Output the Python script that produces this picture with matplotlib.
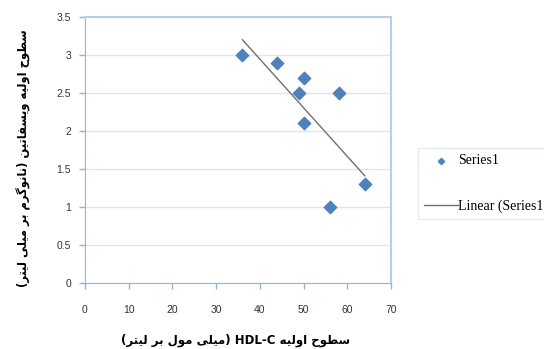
import matplotlib
matplotlib.use("Agg")
import matplotlib.pyplot as plt
import numpy as np

# data
hdl_c = [36, 44, 50, 49, 58, 50, 56, 64]
visfatin = [3.0, 2.9, 2.7, 2.5, 2.5, 2.1, 1.0, 1.3]
x_ticks = [0, 10, 20, 30, 40, 50, 60, 70]
y_ticks = [0, 0.5, 1, 1.5, 2, 2.5, 3, 3.5]

# minimal Persian shaping (matplotlib has no bidi / joining support)
FORMS = {  # isolated, final, initial, medial
    "ا": ("\uFE8D", "\uFE8E", None, None),
    "ب": ("\uFE8F", "\uFE90", "\uFE91", "\uFE92"),
    "ت": ("\uFE95", "\uFE96", "\uFE97", "\uFE98"),
    "ح": ("\uFEA1", "\uFEA2", "\uFEA3", "\uFEA4"),
    "ر": ("\uFEAD", "\uFEAE", None, None),
    "س": ("\uFEB1", "\uFEB2", "\uFEB3", "\uFEB4"),
    "ط": ("\uFEC1", "\uFEC2", "\uFEC3", "\uFEC4"),
    "ف": ("\uFED1", "\uFED2", "\uFED3", "\uFED4"),
    "ل": ("\uFEDD", "\uFEDE", "\uFEDF", "\uFEE0"),
    "م": ("\uFEE1", "\uFEE2", "\uFEE3", "\uFEE4"),
    "ن": ("\uFEE5", "\uFEE6", "\uFEE7", "\uFEE8"),
    "ه": ("\uFEE9", "\uFEEA", "\uFEEB", "\uFEEC"),
    "و": ("\uFEED", "\uFEEE", None, None),
    "ی": ("\uFBFC", "\uFBFD", "\uFBFE", "\uFBFF"),
    "گ": ("\uFB92", "\uFB93", "\uFB94", "\uFB95"),
}


def shape(s):
    out = []
    for i, ch in enumerate(s):
        if ch not in FORMS:
            out.append(ch)
            continue
        prev = s[i - 1] if i > 0 else ""
        nxt = s[i + 1] if i + 1 < len(s) else ""
        jp = prev in FORMS and FORMS[prev][2] is not None
        jn = FORMS[ch][2] is not None and nxt in FORMS
        iso, fin, ini, med = FORMS[ch]
        if jp and jn:
            out.append(med)
        elif jp:
            out.append(fin)
        elif jn:
            out.append(ini)
        else:
            out.append(iso)
    return out


def rtl(s):
    mirror = {"(": ")", ")": "("}
    return "".join(mirror.get(c, c) for c in reversed(shape(s)))


ylabel = rtl("سطوح اولیه ویسفاتین (نانوگرم بر میلی لیتر)")
xlabel = rtl("(میلی مول بر لیتر)") + " HDL-C " + rtl("سطوح اولیه")

fig = plt.figure(figsize=(5.44, 3.49), dpi=100)
ax = fig.add_axes([85 / 544, 1 - 283 / 349, 306 / 544, 266 / 349])

ax.scatter(hdl_c, visfatin, marker="D", s=40, color="#4F81BD", zorder=3,
           label="Series1")
k, b = np.polyfit(hdl_c, visfatin, 1)
xs = np.array([min(hdl_c), max(hdl_c)])
ax.plot(xs, k * xs + b, color="#707070", lw=1, zorder=2,
        label="Linear (Series1)")

ax.set_xlim(0, 70)
ax.set_ylim(0, 3.5)
ax.set_xticks(x_ticks)
ax.set_yticks(y_ticks)
ax.set_yticklabels([f"{v:g}" for v in y_ticks])
ax.yaxis.grid(True, color="#DCE6F2", lw=1)
ax.set_axisbelow(True)

for side in ("left", "bottom"):
    ax.spines[side].set_color("#8EB4E3")
for side in ("top", "right"):
    ax.spines[side].set_color("#B9CDE5")
    ax.spines[side].set_linewidth(1.5)
ax.tick_params(axis="both", colors="#8EB4E3", length=4, width=1,
               labelcolor="#333333", labelsize=7.5)
ax.tick_params(axis="x", pad=12)
ax.tick_params(axis="y", pad=6)
for lab in ax.get_xticklabels() + ax.get_yticklabels():
    lab.set_family("Liberation Sans")

# axis titles placed where they sit in the reference
fig.text(24 / 544, 1 - 158 / 349, ylabel, rotation=90, ha="center",
         va="center", fontsize=8.3, fontweight="bold", family="DejaVu Sans")
fig.text(236 / 544, 1 - 340 / 349, xlabel, ha="center", va="center",
         fontsize=8.5, fontweight="bold", family="DejaVu Sans")

leg = fig.legend(loc="upper left", bbox_to_anchor=(418 / 544, 1 - 148 / 349),
                 prop={"family": "Liberation Serif", "size": 10},
                 frameon=True, fancybox=False, edgecolor="#DCE6F2",
                 borderpad=0.45, borderaxespad=0, labelspacing=2.3,
                 handlelength=2.4, handletextpad=0.05, markerscale=0.5)

fig.savefig("out.png", dpi=100)
